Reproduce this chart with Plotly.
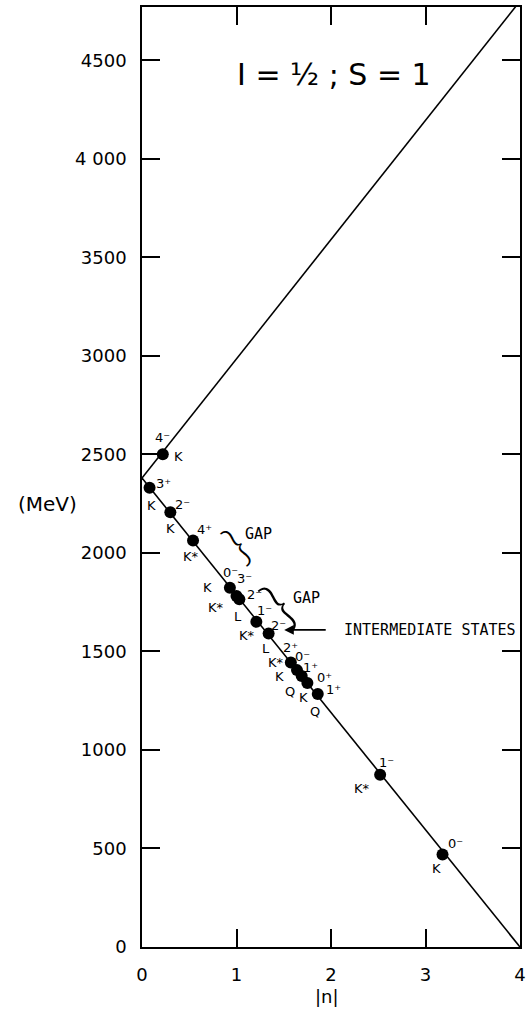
import plotly.graph_objects as go

# ---- data ----
n_vals = [0.22, 0.08, 0.30, 0.54, 0.93, 1.00, 1.03, 1.21, 1.34, 1.575, 1.64, 1.69, 1.75, 1.86, 2.52, 3.18]
mass = [2500, 2330, 2206, 2063, 1823, 1781, 1765, 1650, 1591, 1444, 1405, 1375, 1340, 1284, 874, 469]
spin = ["4⁻", "3⁺", "2⁻", "4⁺", "0⁻", "3⁻", "2⁻", "1⁻", "2⁻", "2⁺", "0⁻", "1⁺", "0⁺", "1⁺", "1⁻", "0⁻"]
particle = ["K", "K", "K", "K*", "K", "K*", "L", "K*", "L", "K*", "K", "Q", "K", "Q", "K*", "K"]

upper_n = [0, 4]
upper_m = [2380, 4800]
lower_n = [0, 4]
lower_m = [2380, 0]

x_ticks = [0, 1, 2, 3, 4]
y_ticks = [0, 500, 1000, 1500, 2000, 2500, 3000, 3500, 4000, 4500]
y_tick_text = ["0", "500", "1000", "1500", "2000", "2500", "3000", "3500", "4 000", "4500"]

gap_n = [1.23, 1.74]
gap_m = [2095, 1771]
brace_n = [0.98, 1.43]
brace_m = [2045, 1741]

arrow_head = (1.505, 1609)
arrow_tail = (1.96, 1609)

# ---- label offsets (pixels, screen: +x right, +y down) ----
spin_off = [(0, -17), (14, -4), (12, -8), (11, -11), (1, -15), (8, -18), (15, -5), (8, -11),
            (10, -8), (0, -15), (6, -14), (9, -9), (17, -5), (16, -4), (6, -12), (13, -11)]
part_off = [(16, 2), (2, 18), (0, 16), (-2, 16), (-22, 0), (-21, 11), (-1, 17), (-9, 14),
            (-3, 15), (-15, 0), (-17, 6), (-12, 15), (-4, 15), (-3, 18), (-18, 14), (-6, 14)]

hand = "DejaVu Sans"
mono = "DejaVu Sans Mono"

fig = go.Figure()
fig.add_trace(go.Scatter(x=upper_n, y=upper_m, mode="lines",
                         line=dict(color="black", width=1.6), hoverinfo="skip"))
fig.add_trace(go.Scatter(x=lower_n, y=lower_m, mode="lines",
                         line=dict(color="black", width=1.6), hoverinfo="skip"))
fig.add_trace(go.Scatter(x=n_vals, y=mass, mode="markers",
                         marker=dict(color="black", size=12), hoverinfo="skip"))

ann = []
for i in range(len(n_vals)):
    sx, sy = spin_off[i]
    px, py = part_off[i]
    ann.append(dict(x=n_vals[i], y=mass[i], text=spin[i], showarrow=False,
                    xshift=sx, yshift=-sy, font=dict(family=hand, size=13, color="black")))
    ann.append(dict(x=n_vals[i], y=mass[i], text=particle[i], showarrow=False,
                    xshift=px, yshift=-py, font=dict(family=hand, size=13, color="black")))

for i in range(2):
    ann.append(dict(x=gap_n[i], y=gap_m[i], text="GAP", showarrow=False,
                    font=dict(family=mono, size=15, color="black")))
ann.append(dict(x=brace_n[0], y=brace_m[0], text="}", showarrow=False, textangle=-39,
                font=dict(family="Lato", size=48, color="black", weight=300)))
ann.append(dict(x=brace_n[1], y=brace_m[1], text="}", showarrow=False, textangle=-39,
                font=dict(family="Lato", size=60, color="black", weight=300)))

ann.append(dict(x=arrow_head[0], y=arrow_head[1], ax=arrow_tail[0], ay=arrow_tail[1],
                axref="x", ayref="y", xref="x", yref="y", text="", showarrow=True,
                arrowhead=2, arrowsize=1.2, arrowwidth=1.6, arrowcolor="black"))
ann.append(dict(x=2.116, y=1609, text="INTERMEDIATE STATES", showarrow=False, xanchor="left",
                font=dict(family=mono, size=15, color="black")))

ann.append(dict(x=2.03, y=4430, text="I = ½ ; S = 1", showarrow=False,
                font=dict(family=hand, size=30, color="black")))
ann.append(dict(xref="paper", yref="y", x=-0.25, y=2250, text="(MeV)", showarrow=False,
                xanchor="center", font=dict(family=hand, size=20, color="black")))
ann.append(dict(xref="paper", yref="paper", x=0.49, y=-0.053, text="|n|", showarrow=False,
                xanchor="center", yanchor="middle", font=dict(family=hand, size=18, color="black")))

fig.update_layout(
    width=531, height=1015,
    margin=dict(l=142, r=9, t=5, b=68),
    paper_bgcolor="white", plot_bgcolor="white",
    showlegend=False,
    hovermode=False,
    annotations=ann,
    xaxis=dict(range=[0, 4], tickvals=x_ticks, ticktext=[str(v) for v in x_ticks],
               ticks="inside", ticklen=18, tickwidth=1.5, tickcolor="black",
               showline=True, linecolor="black", linewidth=1.6, mirror="ticks",
               showgrid=False, zeroline=False, ticklabelstandoff=11,
               tickfont=dict(family=hand, size=18, color="black")),
    yaxis=dict(range=[0, 4770], tickvals=y_ticks, ticktext=y_tick_text,
               ticks="inside", ticklen=18, tickwidth=1.5, tickcolor="black",
               showline=True, linecolor="black", linewidth=1.6, mirror="ticks",
               showgrid=False, zeroline=False, ticklabelstandoff=10,
               tickfont=dict(family=hand, size=18, color="black")),
)

fig.write_html("out.html", config={"displayModeBar": False},
               post_script="document.body.style.margin='0';")
